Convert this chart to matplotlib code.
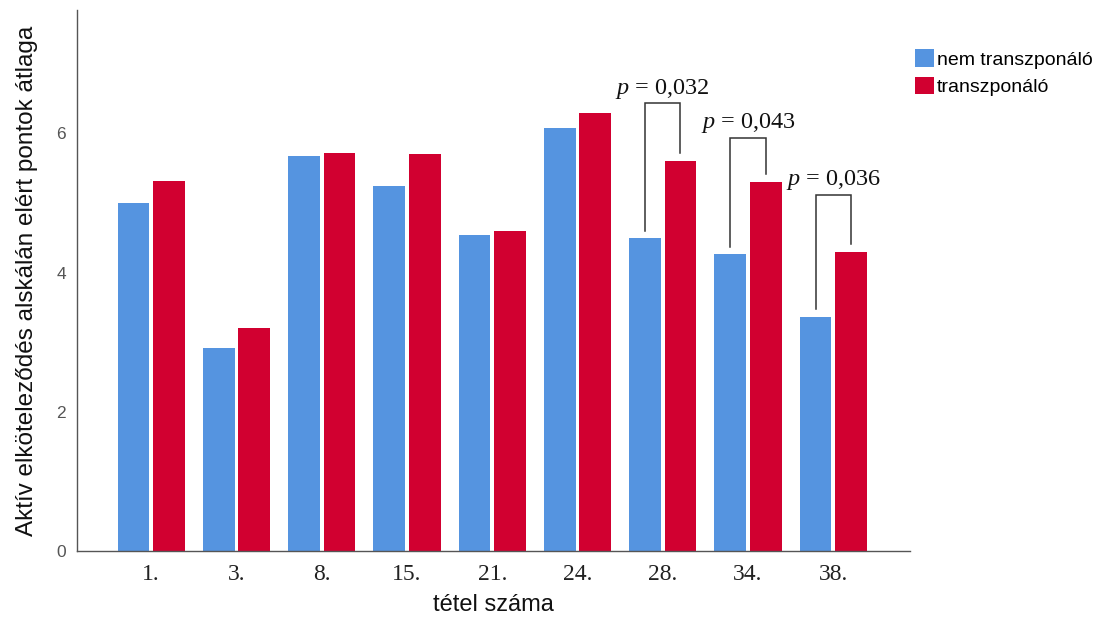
import matplotlib
matplotlib.use("Agg")
import matplotlib.pyplot as plt
from matplotlib.patches import Patch
import numpy as np

plt.rcParams["mathtext.fontset"] = "custom"
plt.rcParams["mathtext.it"] = "Liberation Serif:italic"
plt.rcParams["mathtext.rm"] = "Liberation Serif"

categories = ["1.", "3.", "8.", "15.", "21.", "24.", "28.", "34.", "38."]
nem_transzponalo = [5.00, 2.92, 5.67, 5.24, 4.54, 6.08, 4.49, 4.26, 3.36]
transzponalo = [5.31, 3.21, 5.72, 5.70, 4.59, 6.29, 5.60, 5.30, 4.30]
series_names = ["nem transzponáló", "transzponáló"]
p_labels = ["0,032", "0,043", "0,036"]
p_categories = ["28.", "34.", "38."]
bracket_levels = [6.43, 5.93, 5.12]

BLUE = "#5594E0"
RED = "#D10030"

fig = plt.figure(figsize=(10.98, 6.27), dpi=100)
ax = fig.add_axes([0.0701, 0.1212, 0.7587, 0.8628])

x = np.arange(len(categories))
off = 0.208
w = 0.372
ax.bar(x - off, nem_transzponalo, width=w, color=BLUE, linewidth=0)
ax.bar(x + off, transzponalo, width=w, color=RED, linewidth=0)

ax.set_xlim(-0.87, 8.90)
ax.set_ylim(0, 7.77)
ax.set_yticks([0, 2, 4, 6])
ax.set_yticklabels(["0", "2", "4", "6"], fontfamily="Liberation Sans",
                   fontsize=12.5, color="#555555")
ax.set_xticks(x)
ax.set_xticklabels(categories, fontfamily="Liberation Serif", fontsize=17,
                   color="#222222")
ax.tick_params(axis="both", length=0)
ax.tick_params(axis="y", pad=8)
ax.tick_params(axis="x", pad=9)

for s in ["top", "right"]:
    ax.spines[s].set_visible(False)
for s in ["left", "bottom"]:
    ax.spines[s].set_color("#555555")
    ax.spines[s].set_linewidth(1.0)

ax.set_ylabel("Aktív elköteleződés alskálán elért pontok átlaga",
              fontfamily="Liberation Sans", fontsize=17.5, color="#111111",
              labelpad=13)
ax.set_xlabel("tétel száma", fontfamily="Liberation Sans", fontsize=17,
              color="#111111", labelpad=7)

for cat, lab, top in zip(p_categories, p_labels, bracket_levels):
    i = categories.index(cat)
    b = nem_transzponalo[i]
    r = transzponalo[i]
    xl, xr = i - off, i + off
    ax.plot([xl, xl, xr, xr], [b + 0.11, top, top, r + 0.11],
            color="#333333", linewidth=1.1, solid_joinstyle="miter")
    ax.annotate(r"$p$ = " + lab, xy=(i, top), xytext=(0, 2),
                textcoords="offset points", ha="center", va="bottom",
                fontfamily="Liberation Serif", fontsize=17.5, color="#111111")

handles = [Patch(facecolor=BLUE, edgecolor="none"),
           Patch(facecolor=RED, edgecolor="none")]
fig.legend(handles, series_names, loc="upper left",
           bbox_to_anchor=(0.817, 0.949), frameon=False,
           prop={"family": "Liberation Sans", "size": 14},
           handlelength=1.0, handleheight=1.0, handletextpad=0.15,
           labelspacing=0.4)

fig.savefig("out.png", dpi=100, facecolor="white")
